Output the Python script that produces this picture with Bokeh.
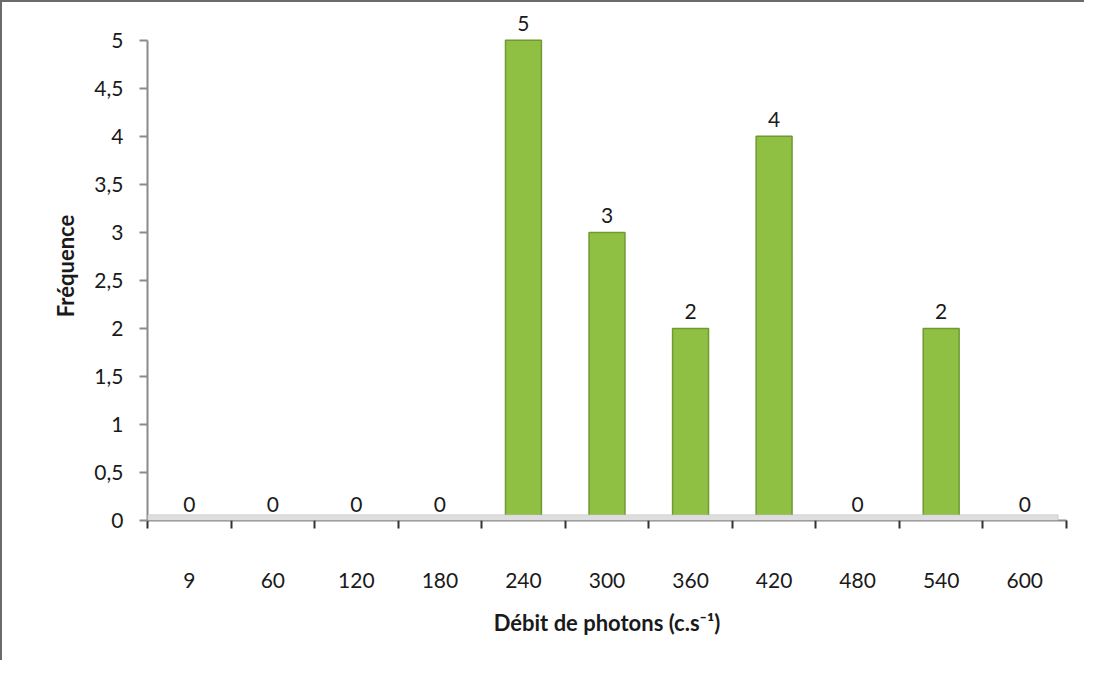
from bokeh.plotting import figure
from bokeh.models import (Range1d, LinearAxis, FixedTicker, ColumnDataSource, LabelSet,
                          CustomJSTickFormatter, BoxAnnotation)
from bokeh.core.properties import value
from bokeh.embed import file_html
from bokeh.resources import INLINE

categories = ["9", "60", "120", "180", "240", "300", "360", "420", "480", "540", "600"]
frequencies = [0, 0, 0, 0, 5, 3, 2, 4, 0, 2, 0]
y_ticks = [0, 0.5, 1, 1.5, 2, 2.5, 3, 3.5, 4, 4.5, 5]

FONT = "Lato"
n = len(categories)
centers = [i + 0.5 for i in range(n)]

src = ColumnDataSource(dict(x=centers, top=frequencies, lab=[str(v) for v in frequencies]))

p = figure(width=1084, height=660, output_backend="svg", toolbar_location=None,
           x_range=Range1d(0, n), y_range=Range1d(0, 5.3),
           x_axis_type=None, min_border_left=145, min_border_right=20,
           min_border_top=9, min_border_bottom=142)
p.styles = {"border-top": "2px solid #6b6b6b", "border-left": "2px solid #6b6b6b"}
p.outline_line_color = None
p.grid.visible = False
p.background_fill_color = "white"
p.border_fill_color = "white"

# y axis
ya = p.yaxis[0]
ya.bounds = (0, 5)
ya.ticker = FixedTicker(ticks=y_ticks)
ya.formatter = CustomJSTickFormatter(code="return tick.toString().replace('.', ',');")
ya.axis_line_color = "#8a8a8a"
ya.axis_line_width = 2
ya.major_tick_line_color = "#8a8a8a"
ya.major_tick_line_width = 2
ya.major_tick_in = 0
ya.major_tick_out = 8
ya.minor_tick_line_color = None
ya.major_label_text_font = FONT
ya.major_label_text_font_size = "21px"
ya.major_label_text_color = "#1a1a1a"
ya.major_label_standoff = 16
ya.axis_label = "Fréquence"
ya.axis_label_text_font = FONT
ya.axis_label_text_font_style = "bold"
ya.axis_label_text_font_size = "22px"
ya.axis_label_text_color = "#1a1a1a"
ya.axis_label_standoff = 12

# x axis: tick marks at category boundaries
xt = LinearAxis(ticker=FixedTicker(ticks=list(range(n + 1))),
                major_label_overrides={i: "" for i in range(n + 1)})
xt.axis_line_color = "#8a8a8a"
xt.axis_line_width = 2
xt.major_tick_line_color = "#333333"
xt.major_tick_line_width = 2
xt.major_tick_in = 0
xt.major_tick_out = 8
xt.minor_tick_line_color = None
xt.major_label_text_font_size = "1px"
xt.major_label_standoff = 0
p.add_layout(xt, "below")

# x axis: category labels at centers
xl = LinearAxis(ticker=FixedTicker(ticks=centers),
                major_label_overrides={c: lab for c, lab in zip(centers, categories)})
xl.axis_line_color = None
xl.major_tick_line_color = None
xl.minor_tick_line_color = None
xl.major_label_text_font = FONT
xl.major_label_text_font_size = "21px"
xl.major_label_text_color = "#1a1a1a"
xl.major_label_standoff = 38
xl.axis_label = "Débit de photons (c.s⁻¹)"
xl.axis_label_text_font = FONT
xl.axis_label_text_font_style = "bold"
xl.axis_label_text_font_size = "22px"
xl.axis_label_text_color = "#1a1a1a"
xl.axis_label_standoff = 18
p.add_layout(xl, "below")

# floor
p.add_layout(BoxAnnotation(bottom=0, top=0.06, left=0, right=n - 0.1,
                           fill_color="#dedede", fill_alpha=1,
                           line_color="#9a9a9a", line_width=1))

# thin marks for all categories on the floor
p.vbar(x="x", top=0.035, bottom=0.005, width=0.45, source=src,
       fill_color="#4d7a33", line_color=None)

p.vbar(x="x", top="top", width=0.43, source=src,
       fill_color="#90c043", line_color="#6f9a32", line_width=1.5)

p.add_layout(LabelSet(x="x", y="top", text="lab", source=src, text_align="center",
                      text_baseline="bottom", y_offset=9, text_font=value(FONT),
                      text_font_size="21px", text_color="#1a1a1a"))

open("out.html", "w").write(file_html(p, INLINE))
